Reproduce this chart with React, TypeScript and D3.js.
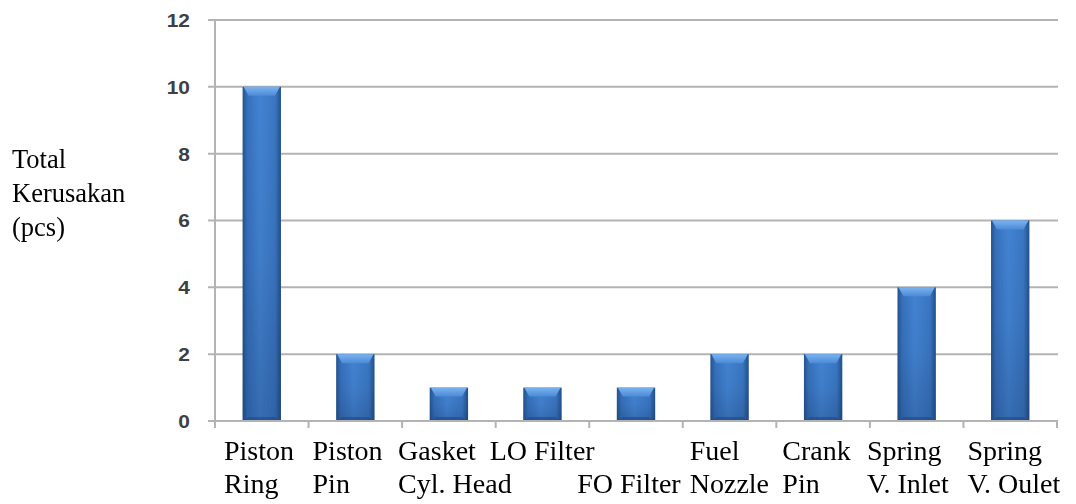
import React from "react";
import * as d3 from "d3";

// Damage counts per engine component
const categories = [
  "Piston Ring",
  "Piston Pin",
  "Gasket Cyl. Head",
  "LO Filter",
  "FO Filter",
  "Fuel Nozzle",
  "Crank Pin",
  "Spring V. Inlet",
  "Spring V. Oulet",
];
const values = [10, 2, 1, 1, 1, 2, 2, 4, 6];
const yTicks = [0, 2, 4, 6, 8, 10, 12];

// Two-line category captions as typed under the axis
const labelLine1 = ["Piston", "Piston", "Gasket", "LO Filter", "", "Fuel", "Crank", "Spring", "Spring"];
const labelLine2 = ["Ring", "Pin", "Cyl. Head", "", "FO Filter", "Nozzle", "Pin", "V. Inlet", "V. Oulet"];
const yTitleLines = ["Total", "Kerusakan", "(pcs)"];

const W = 1076;
const H = 504;
const plot = { left: 215, right: 1057, top: 20, bottom: 421 };
// horizontal nudge of each caption relative to its category slot
const labelNudge = [9, 4, -4, -6, -12, 7, 6, -3, 4];

export default function App() {
  const y = d3.scaleLinear().domain([0, 12]).range([plot.bottom, plot.top]);
  const slots = d3.scaleBand<string>().domain(categories).range([plot.left, plot.right]).padding(0);
  const x = d3
    .scaleBand<string>()
    .domain(categories)
    .range([plot.left, plot.right])
    .paddingInner(0.59)
    .paddingOuter(0.295);
  const bw = x.bandwidth();
  const grid = "#b3b3b3";

  return (
    <svg
      width={W}
      height={H}
      style={{ position: "absolute", left: 0, top: 0, background: "#fff" }}
    >
      <defs>
        <linearGradient id="barH" x1="0" x2="1" y1="0" y2="0">
          <stop offset="0" stopColor="#24538f" />
          <stop offset="0.12" stopColor="#3670bb" />
          <stop offset="0.45" stopColor="#4383d2" />
          <stop offset="0.85" stopColor="#3a76c2" />
          <stop offset="1" stopColor="#23508a" />
        </linearGradient>
        <linearGradient id="barShade" x1="0" x2="0" y1="0" y2="1">
          <stop offset="0" stopColor="#0a1e40" stopOpacity="0" />
          <stop offset="0.5" stopColor="#0a1e40" stopOpacity="0.06" />
          <stop offset="1" stopColor="#0a1e40" stopOpacity="0.22" />
        </linearGradient>
        <linearGradient id="barCap" x1="0" x2="0" y1="0" y2="1">
          <stop offset="0" stopColor="#7bb3f0" />
          <stop offset="1" stopColor="#4c8ad6" />
        </linearGradient>
        <filter id="soft" x="-5%" y="-5%" width="110%" height="110%">
          <feGaussianBlur stdDeviation="0.5" />
        </filter>
      </defs>

      {/* gridlines */}
      {yTicks
        .filter((t) => t > 0)
        .map((t) => (
          <line
            key={t}
            x1={plot.left - 7}
            x2={plot.right + 1}
            y1={y(t)}
            y2={y(t)}
            stroke={grid}
            strokeWidth={2}
          />
        ))}

      {/* bars */}
      <g filter="url(#soft)">
        {categories.map((c, i) => {
          const x0 = x(c)!;
          const y0 = y(values[i]);
          const h = plot.bottom - y0;
          const cap = Math.min(9, h * 0.3);
          const inset = 6;
          return (
            <g key={c}>
              <rect x={x0} y={y0} width={bw} height={h} fill="url(#barH)" />
              <rect x={x0} y={y0} width={bw} height={h} fill="url(#barShade)" />
              <path
                d={`M${x0 + 1},${y0} L${x0 + bw - 1},${y0} L${x0 + bw - inset},${y0 + cap} L${x0 + inset},${y0 + cap} Z`}
                fill="url(#barCap)"
              />
              <path
                d={`M${x0 + 1},${plot.bottom} L${x0 + bw - 1},${plot.bottom} L${x0 + bw - inset},${plot.bottom - 4} L${x0 + inset},${plot.bottom - 4} Z`}
                fill="#1f4880"
                opacity={0.6}
              />
            </g>
          );
        })}
      </g>

      {/* axes */}
      <line x1={plot.left} x2={plot.left} y1={plot.top} y2={plot.bottom + 7} stroke={grid} strokeWidth={2} />
      <line x1={plot.left - 7} x2={plot.right + 1} y1={plot.bottom} y2={plot.bottom} stroke={grid} strokeWidth={2} />
      {/* category ticks */}
      {categories.map((c) => (
        <line
          key={c}
          x1={slots(c)! + slots.bandwidth()}
          x2={slots(c)! + slots.bandwidth()}
          y1={plot.bottom}
          y2={plot.bottom + 7}
          stroke={grid}
          strokeWidth={2}
        />
      ))}

      {/* y tick labels */}
      {yTicks.map((t) => (
        <text
          key={t}
          x={190}
          y={y(t)}
          dy="0.36em"
          textAnchor="end"
          fontFamily="'Liberation Sans', Arial, sans-serif"
          fontWeight="bold"
          fontSize={19}
          fill="#404040"
          transform={`translate(190,0) scale(1.1,1) translate(-190,0)`}
        >
          {t}
        </text>
      ))}

      {/* y title */}
      {yTitleLines.map((s, i) => (
        <text
          key={s}
          x={12}
          y={168 + i * 34}
          fontFamily="'Liberation Serif', 'Times New Roman', serif"
          fontSize={26.5}
          fill="#000"
        >
          {s}
        </text>
      ))}

      {/* category captions */}
      {categories.map((c, i) => {
        const lx = slots(c)! + labelNudge[i];
        return (
          <g key={c} fontFamily="'Liberation Serif', 'Times New Roman', serif" fontSize={28} fill="#000">
            {labelLine1[i] && (
              <text x={lx} y={460}>
                {labelLine1[i]}
              </text>
            )}
            {labelLine2[i] && (
              <text x={lx} y={493}>
                {labelLine2[i]}
              </text>
            )}
          </g>
        );
      })}
    </svg>
  );
}
